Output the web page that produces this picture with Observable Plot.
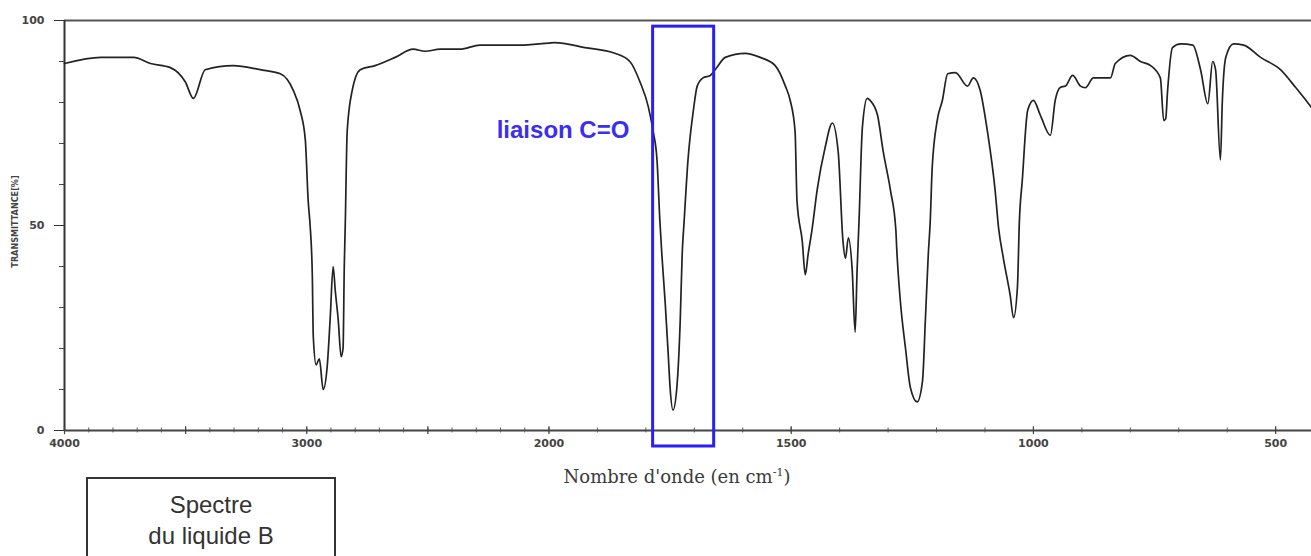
<!DOCTYPE html>
<html>
<head>
<meta charset="utf-8">
<script src="https://cdn.jsdelivr.net/npm/d3@7"></script>
<script src="https://cdn.jsdelivr.net/npm/@observablehq/plot@0.6"></script>
<style>
  html, body { margin: 0; padding: 0; background: #fff; }
  #wrap { position: relative; width: 1311px; height: 556px; overflow: hidden; }
  #chart svg { display: block; }
  #xlabel { position: absolute; left: 677px; top: 466px; transform: translateX(-50%);
    font-family: "DejaVu Serif", serif; font-size: 18px; color: #3a3a3a; white-space: nowrap; }
  #xlabel sup { font-size: 11px; }
  #box { position: absolute; left: 86px; top: 477px; width: 250px; height: 100px;
    border: 2px solid #333; box-sizing: border-box; text-align: center;
    font-family: "Liberation Sans", Arial, sans-serif; font-size: 24px; color: #333; line-height: 31px; padding-top: 10px; }
</style>
</head>
<body>
<div id="wrap">
  <div id="chart"></div>
  <div id="xlabel">Nombre d'onde (en cm<sup>-1</sup>)</div>
  <div id="box">Spectre<br>du liquide B</div>
</div>
<script>
const wavenumbers = [4000, 3850, 3715, 3645, 3563, 3501, 3468, 3419, 3303, 3192,
  3109, 3056, 3027, 3006, 2994, 2986, 2977, 2973, 2961, 2948,
  2932, 2915, 2903, 2891, 2882, 2870, 2858, 2850, 2845, 2841,
  2833, 2812, 2779, 2718, 2635, 2561, 2511, 2449, 2367, 2285,
  2120, 2000, 1988, 1926, 1864, 1833, 1812, 1795, 1785, 1777,
  1771, 1767, 1760, 1754, 1750, 1744, 1736, 1729, 1725, 1721,
  1713, 1702, 1694, 1682, 1667, 1655, 1636, 1595, 1564, 1533,
  1512, 1502, 1492, 1488, 1477, 1471, 1465, 1457, 1446, 1430,
  1415, 1403, 1393, 1388, 1382, 1374, 1368, 1364, 1360, 1353,
  1343, 1337, 1322, 1310, 1295, 1284, 1282, 1275, 1264, 1254,
  1240, 1229, 1223, 1217, 1213, 1209, 1198, 1188, 1177, 1161,
  1136, 1124, 1110, 1095, 1079, 1072, 1062, 1048, 1041, 1033,
  1029, 1023, 1012, 1000, 986, 965, 955, 944, 934, 919,
  903, 893, 876, 841, 831, 800, 779, 758, 738, 731,
  727, 723, 713, 696, 671, 655, 640, 630, 624, 614,
  610, 603, 587, 566, 531, 490, 459, 426];

const transmittance = [89.5, 91, 91, 89.5, 88.5, 85, 81, 88, 89, 88,
  87, 83, 78, 71, 56, 50, 38, 23, 16, 17.5,
  10, 16, 27.5, 40, 34, 27, 18, 20, 40, 50,
  73, 83, 88, 89, 91, 93, 92.5, 93, 93, 94,
  94, 94.5, 94.6, 93.4, 92, 90, 85, 79, 73, 66,
  51, 43, 31, 19, 10.5, 5, 10.5, 27, 43, 51,
  66, 78, 84, 86, 86.6, 88.3, 91, 92, 91, 89,
  84, 80.5, 73, 56, 46, 38, 43, 49, 59, 69,
  75, 68, 46, 42, 47, 39, 24, 39, 51, 74,
  81, 80.5, 77, 68, 58.5, 49, 44, 32, 20, 10.5,
  7, 12, 27, 43, 51, 64, 76, 80.5, 87, 87.3,
  84, 86, 83, 73, 58.5, 49.5, 42, 33, 27.5, 35,
  51, 61, 78, 80.5, 77, 72, 80.5, 83.7, 84, 86.6,
  84, 83.6, 86, 86, 89.5, 91.5, 90, 89, 86, 75.6,
  76, 83, 93.4, 94.3, 94, 88, 79.7, 90, 88, 66,
  80.5, 91, 94.3, 94, 91, 88, 83.7, 78.8];

const xTickLabels = [4000, 3000, 2000, 1500, 1000, 500];
const xMajorTicks = [4000, 3500, 3000, 2500, 2000, 1500, 1000, 500];
const xMinorTicks = d3.range(4000, 499, -100);
const yTickLabels = [0, 50, 100];
const yMinorTicks = d3.range(0, 101, 10);
const bandLabel = "liaison C=O";
const bandRange = [1785, 1659];
const yTitle = "TRANSMITTANCE[%]";

const data = wavenumbers.map((w, i) => ({w, t: transmittance[i]}));

// IR spectra use a scale change at 2000 cm-1 (twice as stretched below it)
const irScale = w => (w >= 2000 ? 4000 - w : 2000 + (2000 - w) * 2);

const tickFont = {fontFamily: "DejaVu Sans", fontSize: 11, fontWeight: "bold", fill: "#444"};

const plot = Plot.plot({
  width: 1311,
  height: 470,
  marginTop: 20,
  marginBottom: 40,
  marginLeft: 64,
  marginRight: 0,
  style: {background: "#fff", color: "#333"},
  x: {transform: irScale, nice: false, zero: false, axis: null},
  y: {domain: [0, 100]},
  marks: [
    Plot.ruleY([100], {stroke: "#555", strokeWidth: 2}),
    Plot.ruleY([0], {stroke: "#444", strokeWidth: 2}),
    Plot.ruleX([4000], {stroke: "#333", strokeWidth: 2}),
    Plot.ruleX(xMinorTicks, {x: d => d, y1: -0.6, y2: 0.6, stroke: "#555", strokeWidth: 1}),
    Plot.ruleX(xMajorTicks, {x: d => d, y1: -1.0, y2: 0.9, stroke: "#444", strokeWidth: 1.2}),
    Plot.text(xTickLabels, {x: d => d, y: 0, text: d => String(d), lineAnchor: "top", dy: 9, ...tickFont}),
    Plot.axisY({ticks: yMinorTicks, tickSize: 5, tickFormat: () => "", label: null, stroke: "#444"}),
    Plot.axisY({ticks: yTickLabels, tickSize: 10, tickPadding: 10, tickFormat: d => String(d), label: null, ...tickFont}),
    Plot.text([yTitle], {frameAnchor: "left", textAnchor: "middle", rotate: -90, dx: -49, dy: -4, fontFamily: "DejaVu Sans Condensed", fontSize: 9, fontWeight: "bold", fill: "#444"}),
    Plot.line(data, {x: "w", y: "t", stroke: "#222", strokeWidth: 1.7, curve: "monotone-x"}),
    Plot.rect([{x1: bandRange[0], x2: bandRange[1]}], {x1: "x1", x2: "x2", y1: -3.9, y2: 98.5, fill: "none", stroke: "#2a1ff5", strokeWidth: 3}),
    Plot.text([bandLabel], {x: 1834, y: 73.2, textAnchor: "end", fontFamily: "Liberation Sans", fontSize: 24, fontWeight: "bold", fill: "#3a2ef0"})
  ]
});
document.getElementById("chart").appendChild(plot);
</script>
</body>
</html>
